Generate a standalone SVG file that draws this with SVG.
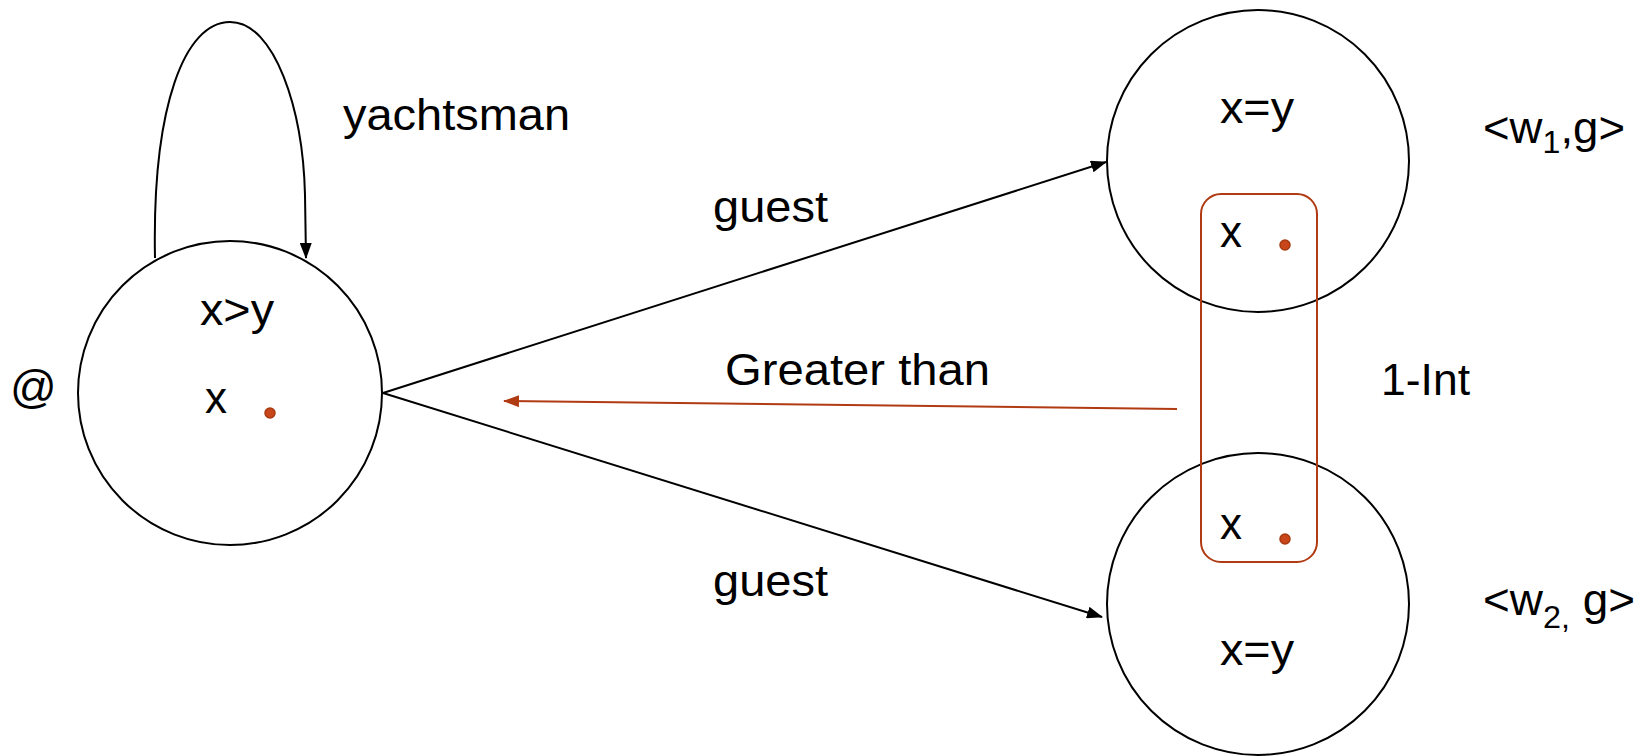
<svg xmlns="http://www.w3.org/2000/svg" width="1652" height="756" viewBox="0 0 1652 756">
<style>
text{font-family:"Liberation Sans",Arial,sans-serif;font-size:44px;fill:#000}
.node{fill:none;stroke:#000;stroke-width:2}
.edge{fill:none;stroke:#000;stroke-width:2}
.red{fill:none;stroke:#B03A12;stroke-width:2}
.dot{fill:#C8461A;stroke:#A8380E;stroke-width:1.5}
.sub{font-size:31px}
</style>
<defs>
<marker id="ab" markerWidth="16" markerHeight="12" refX="15" refY="6" orient="auto" markerUnits="userSpaceOnUse">
<path d="M0,0 L16,6 L0,12 Z" fill="#000"/>
</marker>
<marker id="ar" markerWidth="16" markerHeight="12" refX="15" refY="6" orient="auto" markerUnits="userSpaceOnUse">
<path d="M0,0 L16,6 L0,12 Z" fill="#B03A12"/>
</marker>
</defs>
<g id="connectors">
<path class="edge" d="M155,258 C152,105 185,22 230,22 C275,22 303,110 305,195 L306,258" marker-end="url(#ab)"/>
<line class="edge" x1="383" y1="393" x2="1106" y2="162" marker-end="url(#ab)"/>
<line class="edge" x1="383" y1="393" x2="1102" y2="617" marker-end="url(#ab)"/>
<line class="red" x1="1177" y1="409" x2="504" y2="401" stroke-width="2.5" marker-end="url(#ar)"/>
<text x="343" y="130" textLength="227" lengthAdjust="spacingAndGlyphs">yachtsman</text>
<text x="713" y="222" textLength="115" lengthAdjust="spacingAndGlyphs">guest</text>
<text x="713" y="596" textLength="115" lengthAdjust="spacingAndGlyphs">guest</text>
<text x="725" y="385" textLength="265" lengthAdjust="spacingAndGlyphs">Greater than</text>
</g>
<g id="node-at">
<circle class="node" cx="230" cy="393" r="152"/>
<text x="200" y="325" textLength="74" lengthAdjust="spacingAndGlyphs">x&gt;y</text>
<text x="205" y="413">x</text>
<circle class="dot" cx="270" cy="413" r="5"/>
<text x="10" y="403" style="font-size:46px">@</text>
</g>
<g id="node-w1">
<circle class="node" cx="1258" cy="161" r="151"/>
<text x="1220" y="123" textLength="74" lengthAdjust="spacingAndGlyphs">x=y</text>
<text x="1220" y="247">x</text>
<circle class="dot" cx="1285" cy="245" r="5"/>
<text x="1483" y="143" textLength="142" lengthAdjust="spacingAndGlyphs">&lt;w<tspan class="sub" dy="10">1</tspan><tspan dy="-10">,g&gt;</tspan></text>
</g>
<g id="node-w2">
<circle class="node" cx="1258" cy="604" r="151"/>
<text x="1220" y="665" textLength="74" lengthAdjust="spacingAndGlyphs">x=y</text>
<text x="1220" y="539">x</text>
<circle class="dot" cx="1285" cy="539" r="5"/>
<text x="1483" y="615" textLength="152" lengthAdjust="spacingAndGlyphs">&lt;w<tspan class="sub" dy="13">2,</tspan><tspan dy="-13"> g&gt;</tspan></text>
</g>
<g id="node-int">
<rect class="red" x="1201" y="194" width="116" height="368" rx="20" ry="20"/>
<text x="1381" y="395" textLength="89" lengthAdjust="spacingAndGlyphs">1-Int</text>
</g>
</svg>
